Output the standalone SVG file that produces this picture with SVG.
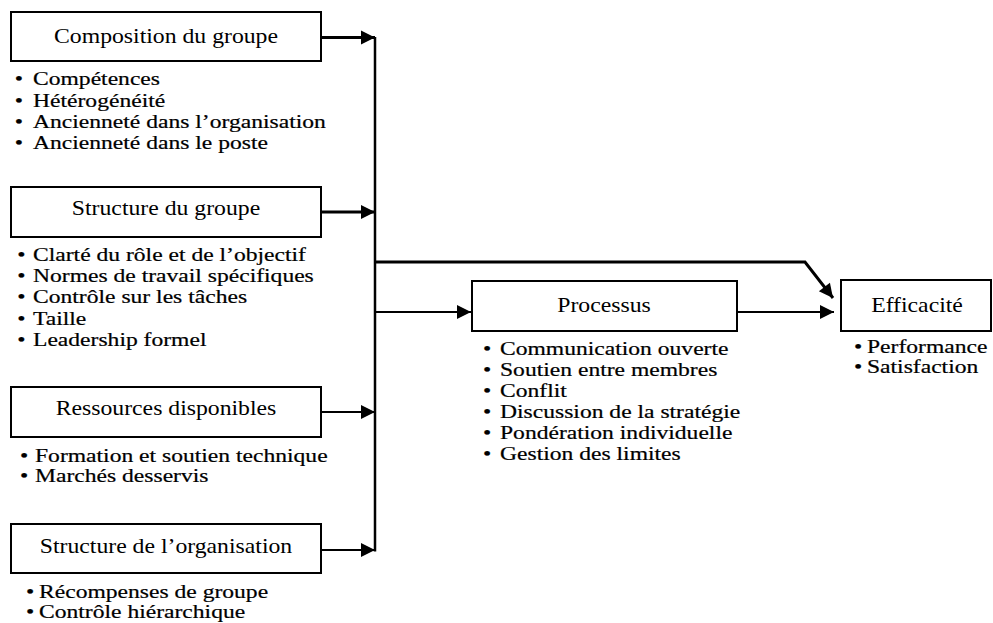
<svg xmlns="http://www.w3.org/2000/svg" width="993" height="623" viewBox="0 0 993 623">
<defs>
<style>
.box{fill:#fff;stroke:#000;stroke-width:2}
.t{font-family:"Liberation Serif","Times New Roman",serif;font-size:21px;fill:#000;text-anchor:middle}
.b{font-family:"Liberation Serif","Times New Roman",serif;font-size:18px;fill:#000;stroke:#000;stroke-width:0.2}
.ln{fill:none;stroke:#000}
.thick{stroke-width:3}
.thin{stroke-width:2}
</style>
<marker id="ah" markerUnits="userSpaceOnUse" markerWidth="16" markerHeight="16" viewBox="0 0 16 16" refX="15" refY="8" orient="auto">
<path d="M1,1 L15,8 L1,15 Z" fill="#000"/>
</marker>
</defs>

<g id="connectors">
<line class="ln" x1="375" y1="37" x2="375" y2="551.5" stroke-width="2.5"/>
<line class="ln thick" x1="321" y1="37.5" x2="375" y2="37.5" marker-end="url(#ah)"/>
<line class="ln thick" x1="321" y1="212" x2="375" y2="212" marker-end="url(#ah)"/>
<line class="ln thin" x1="321" y1="412" x2="375" y2="412" marker-end="url(#ah)"/>
<line class="ln thin" x1="321" y1="550" x2="375" y2="550" marker-end="url(#ah)"/>
<line class="ln thin" x1="375" y1="312" x2="471" y2="312" marker-end="url(#ah)"/>
<polyline class="ln thick" points="375,262 805,262 833,298" marker-end="url(#ah)"/>
<line class="ln thin" x1="737" y1="312" x2="834" y2="312" marker-end="url(#ah)"/>
</g>

<g id="composition">
<rect class="box" x="11" y="12" width="310" height="49"/>
<text class="t" transform="translate(166,43) scale(1.13,1)">Composition du groupe</text>
<g class="b" transform="translate(33,0) scale(1.31,1)">
<text x="-14" y="85">•</text><text x="0" y="85">Compétences</text>
<text x="-14" y="107">•</text><text x="0" y="107">Hétérogénéité</text>
<text x="-14" y="128">•</text><text x="0" y="128">Ancienneté dans l’organisation</text>
<text x="-14" y="149">•</text><text x="0" y="149">Ancienneté dans le poste</text>
</g>
</g>

<g id="structure-groupe">
<rect class="box" x="11" y="187" width="310" height="50"/>
<text class="t" transform="translate(166,215) scale(1.13,1)">Structure du groupe</text>
<g class="b" transform="translate(33,0) scale(1.31,1)">
<text x="-12" y="261">•</text><text x="0" y="261">Clarté du rôle et de l’objectif</text>
<text x="-12" y="282">•</text><text x="0" y="282">Normes de travail spécifiques</text>
<text x="-12" y="303">•</text><text x="0" y="303">Contrôle sur les tâches</text>
<text x="-12" y="325">•</text><text x="0" y="325">Taille</text>
<text x="-12" y="346">•</text><text x="0" y="346">Leadership formel</text>
</g>
</g>

<g id="ressources">
<rect class="box" x="11" y="387" width="310" height="50"/>
<text class="t" transform="translate(166,415) scale(1.13,1)">Ressources disponibles</text>
<g class="b" transform="translate(35,0) scale(1.31,1)">
<text x="-11.5" y="462">•</text><text x="0" y="462">Formation et soutien technique</text>
<text x="-11.5" y="482">•</text><text x="0" y="482">Marchés desservis</text>
</g>
</g>

<g id="structure-organisation">
<rect class="box" x="11" y="524" width="310" height="49"/>
<text class="t" transform="translate(166,553) scale(1.13,1)">Structure de l’organisation</text>
<g class="b" transform="translate(39,0) scale(1.31,1)">
<text x="-10" y="598">•</text><text x="0" y="598">Récompenses de groupe</text>
<text x="-10" y="618">•</text><text x="0" y="618">Contrôle hiérarchique</text>
</g>
</g>

<g id="processus">
<rect class="box" x="472" y="281" width="265" height="50"/>
<text class="t" transform="translate(604,312) scale(1.13,1)">Processus</text>
<g class="b" transform="translate(500,0) scale(1.31,1)">
<text x="-13" y="355">•</text><text x="0" y="355">Communication ouverte</text>
<text x="-13" y="376">•</text><text x="0" y="376">Soutien entre membres</text>
<text x="-13" y="397">•</text><text x="0" y="397">Conflit</text>
<text x="-13" y="418">•</text><text x="0" y="418">Discussion de la stratégie</text>
<text x="-13" y="439">•</text><text x="0" y="439">Pondération individuelle</text>
<text x="-13" y="460">•</text><text x="0" y="460">Gestion des limites</text>
</g>
</g>

<g id="efficacite">
<rect class="box" x="841" y="280" width="150" height="51"/>
<text class="t" transform="translate(917,312) scale(1.13,1)">Efficacité</text>
<g class="b" transform="translate(867,0) scale(1.31,1)">
<text x="-10" y="353">•</text><text x="0" y="353">Performance</text>
<text x="-10" y="373">•</text><text x="0" y="373">Satisfaction</text>
</g>
</g>
</svg>
